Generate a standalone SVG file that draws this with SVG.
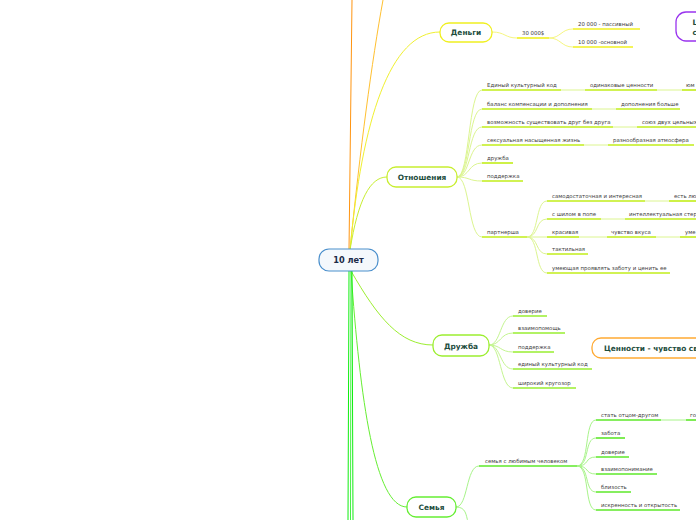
<svg xmlns="http://www.w3.org/2000/svg" width="696" height="520" viewBox="0 0 696 520">
<style>
.t{font-family:"DejaVu Sans","Liberation Sans",sans-serif;font-size:5.4px;fill:#404040}
.n{font-family:"DejaVu Sans","Liberation Sans",sans-serif;font-size:7.4px;font-weight:bold;fill:#1d4d3d;text-anchor:middle}
.c{fill:none;stroke-width:1}
.u{fill:none;stroke-width:1.6}
.box{fill:#ffffff;stroke-width:1.3}
.yl{stroke:#f0f020}.ylc{stroke:#f6f680}
.lm{stroke:#c2ee1a}.lmc{stroke:#dcf590}
.fr{stroke:#98ee30}.frc{stroke:#c4f590}
.gr{stroke:#5ee82a}.grc{stroke:#a8f48a}
</style>
<rect width="696" height="520" fill="#ffffff"/>
<g id="connectors">
  <path class="c" d="M349,250 L352,0" stroke="#ff9410" stroke-width="2.6"/>
  <path class="c" d="M350,250 C360,150 372,60 383,0" stroke="#ffc030" stroke-width="2"/>
  <path class="c" d="M350,250 C362,120 390,32 440,32" stroke="#f0f030" stroke-width="1.4"/>
  <path class="c" d="M350,250 C358,200 370,177 387,177" stroke="#c8ee30" stroke-width="1.3"/>
  <path class="c" d="M351,271 C378,318 400,345 433,345" stroke="#9cee30" stroke-width="1.3"/>
  <path class="c" d="M351,271 C360,400 375,507 407,507" stroke="#66ee33" stroke-width="1.3"/>
  <path class="c" d="M349,271 L348,520" stroke="#10ee10" stroke-width="2.4"/>
  <path class="c" d="M351,271 L350.5,520" stroke="#44f044" stroke-width="1"/>
  <path class="c" d="M352,271 L353,520" stroke="#10ee10" stroke-width="2.4"/>
  <path class="c ylc" d="M492,32 C505,32 505,38 517,38"/>
  <path class="u yl" d="M517,38 H549"/>
  <path class="c ylc" d="M549,38 C561,38 561,29 573,29"/>
  <path class="c ylc" d="M549,38 C561,38 561,47 573,47"/>
  <path class="u yl" d="M573,29 H640"/>
  <path class="u yl" d="M573,47 H633"/>
  <path class="c lmc" d="M457,177 C470,177 468,90 482,90"/>
  <path class="c lmc" d="M457,177 C470,177 468,109 482,109"/>
  <path class="c lmc" d="M457,177 C470,177 468,127 482,127"/>
  <path class="c lmc" d="M457,177 C470,177 468,145 482,145"/>
  <path class="c lmc" d="M457,177 C470,177 468,163 482,163"/>
  <path class="c lmc" d="M457,177 C470,177 468,181 482,181"/>
  <path class="c lmc" d="M457,177 C470,177 468,237 482,237"/>
  <path class="u lm" d="M482,90 H561"/><path class="c lmc" d="M561,90 H585"/><path class="u lm" d="M585,90 H657"/><path class="c lmc" d="M657,90 H682"/><path class="u lm" d="M682,90 H696"/>
  <path class="u lm" d="M482,109 H592"/><path class="c lmc" d="M592,109 H616"/><path class="u lm" d="M616,109 H680"/>
  <path class="u lm" d="M482,127 H613"/><path class="c lmc" d="M613,127 H637"/><path class="u lm" d="M637,127 H696"/>
  <path class="u lm" d="M482,145 H584"/><path class="c lmc" d="M584,145 H608"/><path class="u lm" d="M608,145 H694"/>
  <path class="u lm" d="M482,163 H513"/>
  <path class="u lm" d="M482,181 H523"/>
  <path class="u lm" d="M482,237 H527"/>
  <path class="c lmc" d="M527,237 C539,237 535,201 547,201"/>
  <path class="c lmc" d="M527,237 C539,237 535,219 547,219"/>
  <path class="c lmc" d="M527,237 H547"/>
  <path class="c lmc" d="M527,237 C539,237 535,254 547,254"/>
  <path class="c lmc" d="M527,237 C539,237 535,273 547,273"/>
  <path class="u lm" d="M547,201 H645"/><path class="c lmc" d="M645,201 H669"/><path class="u lm" d="M669,201 H696"/>
  <path class="u lm" d="M547,219 H601"/><path class="c lmc" d="M601,219 H625"/><path class="u lm" d="M625,219 H696"/>
  <path class="u lm" d="M547,237 H579"/><path class="c lmc" d="M579,237 H607"/><path class="u lm" d="M607,237 H656"/><path class="c lmc" d="M656,237 H680"/><path class="u lm" d="M680,237 H696"/>
  <path class="u lm" d="M547,254 H588"/>
  <path class="u lm" d="M547,273 H670"/>
  <path class="c frc" d="M489,345 C501,345 500,316 513,316"/>
  <path class="c frc" d="M489,345 C501,345 500,333 513,333"/>
  <path class="c frc" d="M489,345 C501,345 500,352 513,352"/>
  <path class="c frc" d="M489,345 C501,345 500,369 513,369"/>
  <path class="c frc" d="M489,345 C501,345 500,388 513,388"/>
  <path class="u fr" d="M513,316 H547"/>
  <path class="u fr" d="M513,333 H565"/>
  <path class="u fr" d="M513,352 H554"/>
  <path class="u fr" d="M513,369 H592"/>
  <path class="u fr" d="M513,388 H576"/>
  <path class="c grc" d="M456,507 C468,507 466,466 479,466"/>
  <path class="c grc" d="M456,507 C466,507 466,515 468,522"/>
  <path class="u gr" d="M479,466 H577"/>
  <path class="c grc" d="M577,466 C590,466 584,420 596,420"/>
  <path class="c grc" d="M577,466 C590,466 584,438 596,438"/>
  <path class="c grc" d="M577,466 C590,466 584,457 596,457"/>
  <path class="c grc" d="M577,466 C590,466 584,474 596,474"/>
  <path class="c grc" d="M577,466 C590,466 584,492 596,492"/>
  <path class="c grc" d="M577,466 C590,466 584,510 596,510"/>
  <path class="u gr" d="M596,420 H661"/><path class="c grc" d="M661,420 H686"/><path class="u gr" d="M686,420 H696"/>
  <path class="u gr" d="M596,438 H625"/>
  <path class="u gr" d="M596,457 H629"/>
  <path class="u gr" d="M596,474 H657"/>
  <path class="u gr" d="M596,492 H631"/>
  <path class="u gr" d="M596,510 H680"/>
</g>
<g id="root">
  <rect x="319" y="249" width="59" height="22" rx="10" fill="#f4f8fc" stroke="#4a8fcc" stroke-width="1.2"/>
  <text x="348.5" y="263" font-family="DejaVu Sans, Liberation Sans, sans-serif" font-size="8.2" font-weight="bold" fill="#1a2a48" text-anchor="middle">10 лет</text>
</g>
<g id="dengi">
  <rect class="box" x="440" y="23" width="52" height="19" rx="9" stroke="#f0f020"/>
  <text class="n" x="466" y="35">Деньги</text>
  <text class="t" x="522" y="35">30 000$</text>
  <text class="t" x="578" y="25.5">20 000 - пассивный</text>
  <text class="t" x="578" y="43.5">10 000 -основной</text>
</g>
<g id="purple">
  <rect class="box" x="676" y="12" width="40" height="29" rx="10" stroke="#9933ee"/>
  <text class="n" x="692.5" y="25" style="text-anchor:start">Ц</text>
  <text class="n" x="692.5" y="35" style="text-anchor:start">с</text>
</g>
<g id="otnosheniya">
  <rect class="box" x="387" y="167" width="70" height="20" rx="9" stroke="#c8ee30"/>
  <text class="n" x="422" y="180">Отношения</text>
  <text class="t" x="487" y="86.5">Единый культурный код</text>
  <text class="t" x="590" y="86.5">одинаковые ценности</text>
  <text class="t" x="686" y="86.5">юм</text>
  <text class="t" x="487" y="105.5">баланс компенсации и дополнения</text>
  <text class="t" x="621" y="105.5">дополнения больше</text>
  <text class="t" x="487" y="123.5">возможность существовать друг без друга</text>
  <text class="t" x="642" y="123.5">союз двух цельных</text>
  <text class="t" x="487" y="141.5">сексуальная насыщенная жизнь</text>
  <text class="t" x="613" y="141.5">разнообразная атмосфера</text>
  <text class="t" x="487" y="159.5">дружба</text>
  <text class="t" x="487" y="177.5">поддержка</text>
  <text class="t" x="487" y="233.5">партнерша</text>
  <text class="t" x="552" y="197.5">самодостаточная и интересная</text>
  <text class="t" x="674" y="197.5">есть лю</text>
  <text class="t" x="552" y="215.5">с шилом в попе</text>
  <text class="t" x="629" y="215.5">интеллектуальная стер</text>
  <text class="t" x="552" y="233.5">красивая</text>
  <text class="t" x="611" y="233.5">чувство вкуса</text>
  <text class="t" x="685" y="233.5">уме</text>
  <text class="t" x="552" y="250.5">тактильная</text>
  <text class="t" x="552" y="269.5">умеющая проявлять заботу и ценить ее</text>
</g>
<g id="druzhba">
  <rect class="box" x="433" y="335" width="56" height="21" rx="9" stroke="#9cee30"/>
  <text class="n" x="461" y="348.5">Дружба</text>
  <text class="t" x="518" y="312.5">доверие</text>
  <text class="t" x="518" y="329.5">взаимопомощь</text>
  <text class="t" x="518" y="348.5">поддержка</text>
  <text class="t" x="518" y="365.5">единый культурный код</text>
  <text class="t" x="518" y="384.5">широкий кругозор</text>
</g>
<g id="cennosti">
  <rect class="box" x="592" y="338" width="130" height="20" rx="9" stroke="#ffaa33"/>
  <text class="n" x="604" y="351" style="text-anchor:start">Ценности - чувство свободы</text>
</g>
<g id="semya">
  <rect class="box" x="407" y="497" width="49" height="20" rx="9" stroke="#66ee33"/>
  <text class="n" x="431.5" y="510">Семья</text>
  <text class="t" x="485" y="462.5">семья с любимым человеком</text>
  <text class="t" x="601" y="416.5">стать отцом-другом</text>
  <text class="t" x="690" y="416.5">го</text>
  <text class="t" x="601" y="434.5">забота</text>
  <text class="t" x="601" y="453.5">доверие</text>
  <text class="t" x="601" y="470.5">взаимопонимание</text>
  <text class="t" x="601" y="488.5">близость</text>
  <text class="t" x="601" y="506.5">искренность и открытость</text>
</g>
</svg>
